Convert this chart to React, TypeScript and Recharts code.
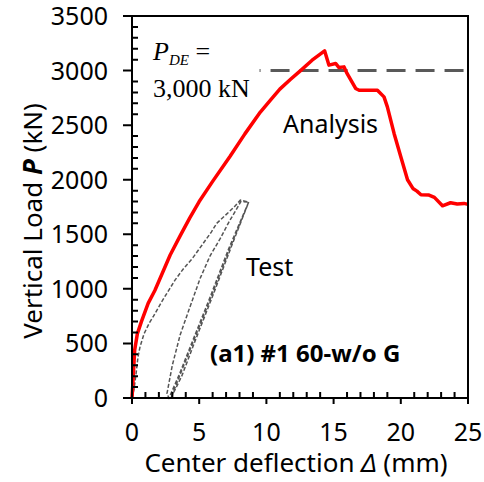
import { LineChart, Line, XAxis, YAxis, ReferenceLine } from "recharts";

// Analysis curve (FE model)
const analysisDeflection = [
  0, 0.05, 0.2, 0.4, 0.7, 1.2, 1.7, 2.84, 3.6, 4.3, 5.0, 6.0, 7.3, 8.4, 9.55, 10.3,
  11.0, 11.8, 12.54, 13.4, 14.33, 14.65, 15.15, 15.4, 15.77, 16.0, 16.64, 16.9,
  18.26, 18.75, 19.0, 19.5, 20.0, 20.5, 20.9, 21.2, 21.5, 22.1, 22.5, 23.1, 23.7,
  24.2, 24.7, 25.0,
];
const analysisLoad = [
  0, 100, 440, 590, 700, 867, 985, 1310, 1490, 1650, 1800, 1985, 2215, 2420, 2620, 2730,
  2830, 2920, 3000, 3095, 3181, 3050, 3065, 3028, 3034, 2974, 2836, 2820,
  2820, 2759, 2667, 2424, 2210, 2000, 1920, 1895, 1862, 1859, 1838, 1761, 1789,
  1777, 1783, 1774,
];

// Test curve: first loading, then unloading / reloading cycles
const testDeflection = [
  0, 0.15, 0.3, 0.45, 0.6, 0.9, 1.3, 1.6, 2.2, 2.8, 3.2, 3.8, 4.5, 5.2, 5.9, 6.3,
  7.0, 7.6, 8.06, 8.68,
  7.2, 5.8, 4.5, 3.5, 2.75, 2.6,
  3.0, 3.58, 4.3, 5.07, 5.8, 6.57, 7.2, 7.81, 8.1, 8.68,
  7.3, 5.9, 4.6, 3.6, 2.9,
  3.7, 4.75, 6.05, 7.4, 8.68,
];
const testLoad = [
  0, 80, 220, 380, 470, 590, 690, 750, 880, 1000, 1080, 1180, 1280, 1400, 1520, 1600,
  1680, 1750, 1813, 1795,
  1370, 920, 520, 210, 0, 40,
  300, 577, 830, 1096, 1300, 1462, 1610, 1737, 1800, 1795,
  1380, 930, 530, 220, 0,
  200, 540, 950, 1390, 1795,
];

// major (labelled) and minor tick values
const deflectionTicks = [0, 5, 10, 15, 20, 25];
const loadTicks = [0, 500, 1000, 1500, 2000, 2500, 3000, 3500];
const minorDeflection = Array.from({ length: 26 }, (_, i) => i);
const minorLoad = Array.from({ length: 36 }, (_, i) => i * 100);
const designLoad = 3000;

const toPoints = (xs: number[], ys: number[]) => xs.map((x, i) => ({ x, y: ys[i] }));
const analysisData = toPoints(analysisDeflection, analysisLoad);
const testData = toPoints(testDeflection, testLoad);

const sans = "'Noto Sans', sans-serif";
const serif = "'Liberation Serif', 'Times New Roman', serif";

// plot box inside the 484 x 482 svg, same domains as the axes
const box = { left: 132, top: 16, width: 336, height: 382 };
const xMax = 25;
const yMax = 3500;
const px = (d: number) => box.left + (d / xMax) * box.width;
const py = (p: number) => box.top + box.height - (p / yMax) * box.height;

// tick labels only; tick marks and frame go in the overlay
const XLabel = (props: any) => (
  <text x={props.x} y={Number(props.y) + 25} dy="0.71em" textAnchor="middle" fontFamily={sans} fontSize={25} fill="#000">
    {props.payload.value}
  </text>
);
const YLabel = (props: any) => (
  <text x={Number(props.x) - 24} y={props.y} dy="0.36em" textAnchor="end" fontFamily={sans} fontSize={25} fill="#000">
    {props.payload.value}
  </text>
);

// frame, outward major ticks and inward minor ticks
const Frame = () => {
  const bottom = box.top + box.height;
  const d: string[] = [];
  minorDeflection.forEach((v) => {
    const x = px(v);
    d.push(deflectionTicks.includes(v) ? `M${x},${bottom}V${bottom + 6}` : `M${x},${bottom}V${bottom - 6}`);
  });
  minorLoad.forEach((v) => {
    const y = py(v);
    d.push(loadTicks.includes(v) ? `M${box.left - 9},${y}H${box.left}` : `M${box.left},${y}H${box.left + 6}`);
  });
  return (
    <svg
      width={484}
      height={482}
      style={{ position: "absolute", left: 0, top: 0, pointerEvents: "none" }}
    >
      <rect x={box.left} y={box.top} width={box.width} height={box.height} fill="none" stroke="#000" strokeWidth={2} />
      <path d={d.join("")} stroke="#000" strokeWidth={2} fill="none" />
    </svg>
  );
};

const App = () => {
  return (
    <div style={{ position: "absolute", left: 0, top: 0, width: 484, height: 482 }}>
      <LineChart width={484} height={482} margin={{ top: box.top, right: 484 - box.left - box.width, left: 0, bottom: 0 }}>
        <XAxis
          type="number"
          dataKey="x"
          domain={[0, xMax]}
          ticks={deflectionTicks}
          interval={0}
          height={482 - box.top - box.height}
          tickSize={0}
          tickMargin={0}
          tickLine={false}
          axisLine={{ stroke: "#000", strokeWidth: 2 }}
          tick={<XLabel />}
        />
        <YAxis
          type="number"
          dataKey="y"
          domain={[0, yMax]}
          ticks={loadTicks}
          interval={0}
          width={box.left}
          tickSize={0}
          tickMargin={0}
          tickLine={false}
          axisLine={{ stroke: "#000", strokeWidth: 2 }}
          tick={<YLabel />}
        />

        {/* design load P_DE */}
        <ReferenceLine
          segment={[
            { x: 9.49, y: designLoad },
            { x: 25, y: designLoad },
          ]}
          stroke="#595959"
          strokeWidth={3}
          strokeDasharray="19 10"
          strokeDashoffset={18}
          ifOverflow="visible"
        />

        <Line
          data={testData}
          dataKey="y"
          type="linear"
          stroke="#555"
          strokeWidth={1.5}
          strokeDasharray="4 2"
          dot={false}
          isAnimationActive={false}
        />
        <Line
          data={analysisData}
          dataKey="y"
          type="linear"
          stroke="#ff0000"
          strokeWidth={3.5}
          dot={false}
          strokeLinejoin="round"
          isAnimationActive={false}
        />

        {/* annotations */}
        <text x={153} y={60} fontFamily={serif} fontSize={26} fill="#000">
          <tspan fontStyle="italic">P</tspan>
          <tspan fontStyle="italic" fontSize={15} dy={5}>DE</tspan>
          <tspan dy={-5}> =</tspan>
        </text>
        <text x={153} y={97} fontFamily={serif} fontSize={26} fill="#000">
          3,000 kN
        </text>
        <text x={283} y={133} fontFamily={sans} fontSize={25} fill="#000">
          Analysis
        </text>
        <text x={246} y={276} fontFamily={sans} fontSize={25} fill="#000">
          Test
        </text>
        <text x={210} y={362} fontFamily={sans} fontSize={24} fontWeight="bold" fill="#000">
          (a1) #1 60-w/o G
        </text>

        {/* axis titles */}
        <text
          x={32}
          y={221}
          transform="rotate(-90, 32, 221)"
          textAnchor="middle"
          dominantBaseline="central"
          fontFamily={sans}
          fontSize={26}
          fill="#000"
        >
          Vertical Load <tspan fontWeight="bold" fontStyle="italic">P</tspan> (kN)
        </text>
        <text x={296} y={472} textAnchor="middle" fontFamily={sans} fontSize={26} fill="#000">
          Center deflection <tspan fontStyle="italic">Δ</tspan> (mm)
        </text>
      </LineChart>
      <Frame />
    </div>
  );
};

export default App;
